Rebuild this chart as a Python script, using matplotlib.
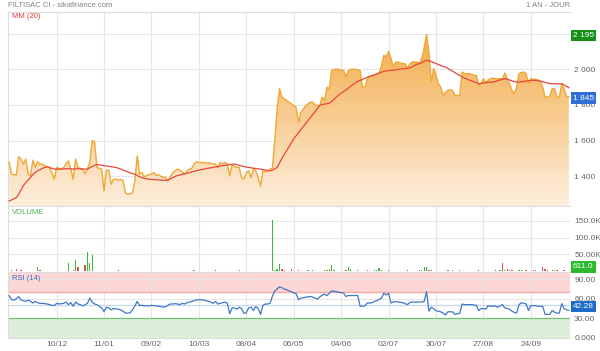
import numpy as np
import matplotlib
matplotlib.use('Agg')
import matplotlib.pyplot as plt
from matplotlib.colors import LinearSegmentedColormap
from matplotlib.ticker import FixedLocator, FixedFormatter

plt.rcParams['font.family'] = ['Liberation Sans', 'DejaVu Sans']

# ---------------- data ----------------
price = [
    1478, 1412, 1410, 1407, 1510, 1497, 1469, 1497, 1412, 1403,
    1491, 1450, 1483, 1465, 1470, 1459, 1455, 1450, 1421, 1384,
    1450, 1445, 1441, 1450, 1470, 1487, 1441, 1384, 1497, 1450,
    1445, 1441, 1416, 1440, 1480, 1600, 1595, 1450, 1445, 1441,
    1318, 1435, 1435, 1356, 1384, 1384, 1380, 1382, 1378, 1309,
    1300, 1302, 1309, 1375, 1515, 1412, 1421, 1397, 1405, 1410,
    1412, 1421, 1405, 1410, 1400, 1395, 1393, 1375, 1400, 1420,
    1431, 1441, 1435, 1425, 1412, 1431, 1440, 1445, 1469, 1483,
    1478, 1478, 1478, 1475, 1475, 1472, 1470, 1468, 1450, 1478,
    1470, 1478, 1470, 1403, 1465, 1455, 1450, 1450, 1393, 1384,
    1420, 1431, 1393, 1441, 1431, 1393, 1346, 1431, 1425, 1431,
    1441, 1445, 1600, 1780, 1891, 1844, 1835, 1825, 1815, 1807,
    1795, 1788, 1703, 1759, 1775, 1797, 1805, 1816, 1816, 1800,
    1797, 1797, 1844, 1825, 1900, 1890, 1994, 2000, 2000, 2000,
    1995, 1994, 1960, 1990, 2000, 2000, 2000, 1998, 1994, 1900,
    1900, 1945, 1960, 1966, 1966, 1970, 1976, 2022, 2079, 2070,
    2101, 2060, 2013, 2041, 2040, 2035, 2032, 2030, 2007, 2030,
    2041, 2041, 2040, 2035, 2060, 2120, 2195, 2097, 1928, 2004,
    1966, 1919, 1900, 1854, 1870, 1882, 1885, 1882, 1854, 1854,
    1854, 1985, 1976, 1976, 1976, 1972, 1966, 1966, 1910, 1920,
    1947, 1925, 1940, 1947, 1950, 1948, 1947, 1947, 1945, 1979,
    1945, 1920, 1882, 1863, 1900, 1976, 1982, 1985, 1975, 1919,
    1947, 1945, 1943, 1940, 1935, 1900, 1844, 1844, 1850, 1891,
    1891, 1844, 1844, 1919, 1890, 1850, 1845,
]

ma20 = [
    1262, 1268, 1275, 1281, 1300, 1325, 1348, 1365, 1380, 1395,
    1410, 1422, 1431, 1438, 1445, 1450, 1453, 1450, 1445, 1441,
    1441, 1440, 1441, 1442, 1443, 1443, 1442, 1441, 1442, 1443,
    1442, 1441, 1441, 1441, 1448, 1455, 1462, 1465, 1465, 1463,
    1460, 1458, 1456, 1454, 1452, 1450, 1446, 1441, 1436, 1430,
    1425, 1420, 1416, 1412, 1405, 1398, 1393, 1389, 1386, 1384,
    1383, 1382, 1381, 1380, 1379, 1378, 1378, 1380, 1386, 1393,
    1400, 1405, 1408, 1412, 1415, 1418, 1421, 1425, 1428, 1432,
    1435, 1438, 1440, 1443, 1446, 1448, 1450, 1453, 1455, 1458,
    1460, 1462, 1464, 1466, 1468, 1469, 1466, 1462, 1458, 1455,
    1452, 1450, 1448, 1446, 1444, 1442, 1441, 1438, 1435, 1433,
    1431, 1435, 1442, 1450, 1475, 1500, 1522, 1544, 1565, 1588,
    1610, 1628, 1645, 1662, 1678, 1695, 1712, 1730, 1748, 1765,
    1782, 1797, 1803, 1805, 1807, 1810, 1820, 1832, 1845, 1856,
    1866, 1874, 1884, 1895, 1905, 1915, 1924, 1932, 1938, 1943,
    1950, 1955, 1960, 1964, 1968, 1975, 1980, 1984, 1988, 1991,
    1993, 1994, 1995, 1997, 1999, 2001, 2002, 2004, 2006, 2008,
    2015, 2022, 2028, 2032, 2038, 2045, 2051, 2048, 2043, 2038,
    2032, 2027, 2021, 2016, 2013, 2005, 1997, 1989, 1981, 1973,
    1965, 1957, 1951, 1946, 1940, 1935, 1930, 1925, 1919, 1921,
    1923, 1925, 1927, 1928, 1928, 1932, 1936, 1940, 1944, 1947,
    1945, 1940, 1935, 1931, 1928, 1928, 1930, 1932, 1934, 1936,
    1938, 1938, 1938, 1936, 1933, 1930, 1927, 1923, 1920, 1919,
    1919, 1919, 1919, 1919, 1912, 1905, 1897,
]

volume = [
    2000, 3000, 500, 8000, 1500, 2500, 500, 1000, 300, 500,
    800, 1200, 13000, 3000, 500, 400, 300, 500, 800, 300,
    2000, 500, 300, 1500, 800, 25000, 1000, 3000, 34000, 14000,
    2000, 500, 20000, 57000, 25000, 49000, 1500, 800, 1000, 1500,
    800, 500, 1000, 600, 400, 500, 3000, 800, 600, 500,
    800, 400, 600, 300, 500, 400, 300, 500, 700, 400,
    500, 300, 600, 400, 300, 500, 800, 400, 300, 600,
    400, 500, 300, 600, 500, 400, 700, 1000, 5000, 800,
    500, 400, 300, 600, 500, 400, 800, 2500, 600, 500,
    1000, 800, 600, 1200, 500, 1500, 2000, 2500, 800, 600,
    1000, 800, 1500, 700, 600, 1200, 1000, 800, 600, 1500,
    2000, 152000, 3000, 8000, 23000, 8000, 5000, 2000, 1500, 8000,
    2000, 1500, 2500, 1800, 2200, 1500, 3000, 2000, 2500, 1800,
    2200, 1500, 2000, 2500, 4000, 7000, 20000, 2500, 1500, 2000,
    1800, 2200, 3000, 12000, 6000, 2000, 1500, 2500, 2000, 1500,
    1800, 2500, 1500, 2000, 3000, 2500, 10000, 5000, 2000, 1500,
    2500, 1800, 2000, 1500, 2200, 1800, 1500, 2000, 2500, 1800,
    1500, 2000, 1800, 2500, 3000, 12000, 12000, 4000, 2500, 2000,
    1500, 2000, 1800, 2200, 1500, 2500, 2000, 5000, 1800, 1500,
    3000, 1800, 1500, 2000, 2200, 1500, 1800, 2000, 2500, 1500,
    1800, 2000, 1500, 2200, 1800, 2500, 2000, 3000, 25000, 4000,
    6000, 2500, 3000, 2000, 1500, 3000, 2500, 2000, 4000, 1800,
    2000, 2500, 3000, 1800, 2200, 12000, 6000, 2500, 2000, 3000,
    4000, 2500, 2000, 1800, 3000, 1500, 611,
]

rsi = [
    65, 58.5, 58, 60, 63.5, 58, 57, 56, 58, 56,
    53.5, 56, 54, 53, 53, 52.5, 52, 51, 50, 49.5,
    53, 52, 52.5, 53, 55, 51, 54, 48.5, 55, 52,
    51, 49, 51, 53, 61, 55, 52, 51, 48.5, 46,
    40, 47, 46, 43, 45, 44.5, 44, 43, 41, 38,
    38, 38.5, 43, 49, 56, 49.5, 50, 49, 49.5, 49,
    50, 49.5, 49, 48.5, 48, 47, 48, 50, 52, 52,
    52.5, 52, 51, 53, 52, 54, 55, 56, 57, 58.5,
    58.5, 58.5, 58, 57, 56, 55, 53, 56, 52, 53,
    54, 55, 53, 37, 46, 46, 44, 47, 45, 37.5,
    38.5, 46, 47, 42, 48, 45, 36, 50, 52, 52,
    53, 64, 72, 75, 78.5, 77, 75, 74, 72, 71,
    69, 68, 58.5, 61, 61.5, 62.5, 63, 63.5, 62.5, 61,
    59.5, 63, 65.5, 67, 65, 68.5, 72, 71.5, 71, 70,
    69.5, 69, 63.5, 65, 65, 65, 65, 65, 48.5, 48.5,
    49, 53.5, 53.5, 54, 56, 57, 59, 61, 68.5, 66,
    68.5, 53.5, 55.5, 55.5, 55, 54.5, 54, 52.5, 51, 54.5,
    55, 55, 55, 55, 55, 56, 71, 41, 47, 45,
    41.5, 41, 40, 38, 35, 40, 40, 40, 36, 37,
    37.5, 52, 51, 51, 51, 51, 50.5, 50, 42, 45,
    45, 44, 49.5, 48.5, 48.5, 49, 47, 49, 51, 46,
    45, 44, 41, 39, 38, 51, 54, 53, 52, 42,
    49.5, 49.5, 49.5, 48.5, 48.5, 48.5, 36, 36, 36, 42,
    39.5, 38, 38, 52.5, 45, 43, 42.28,
]

tick_pos = [20, 40, 60, 80, 100, 120, 140, 160, 180, 200, 220]
tick_labels = ['10/12', '11/01', '09/02', '10/03', '08/04', '06/05',
               '04/06', '02/07', '30/07', '27/08', '24/09']

price_ticks = [1400, 1600, 1800, 2000, 2200]
price_tick_labels = ['1 400', '1 600', '1 800', '2 000', '2 200']
vol_ticks = [50000, 100000, 150000]
vol_tick_labels = ['50.00K', '100.0K', '150.0K']
rsi_ticks = [0, 30, 60, 90]
rsi_tick_labels = ['0.000', '30.00', '60.00', '90.00']

# ---------------- figure ----------------
W, H = 600, 351
fig = plt.figure(figsize=(W / 100, H / 100), dpi=100)
fig.patch.set_facecolor('white')


def rect(l, t, r, b):
    return [l / W, 1 - b / H, (r - l) / W, (b - t) / H]


axp = fig.add_axes(rect(8, 12, 570, 206))
axv = fig.add_axes(rect(8, 206, 570, 272))
axr = fig.add_axes(rect(8, 272, 570, 338))

n = len(price)
x = np.arange(n)
GRID = '#e6e6e6'
TICKC = '#666666'
FS = 6

for ax in (axp, axv, axr):
    ax.set_xlim(-0.5, n - 0.5)
    ax.xaxis.set_major_locator(FixedLocator(tick_pos))
    ax.grid(True, color=GRID, lw=0.8, zorder=0)
    ax.set_axisbelow(True)
    ax.yaxis.tick_right()
    ax.tick_params(axis='both', length=0, labelsize=FS, labelcolor=TICKC, pad=3)
    for s in ax.spines.values():
        s.set_color('#dddddd')
        s.set_linewidth(0.8)
    ax.spines['right'].set_visible(False)

axp.tick_params(axis='x', labelbottom=False)
axv.tick_params(axis='x', labelbottom=False)
axr.xaxis.set_major_formatter(FixedFormatter(tick_labels))
axr.tick_params(axis='x', pad=2)

# price panel
ylo, yhi = 1234, 2321
axp.set_ylim(ylo, yhi)
axp.yaxis.set_major_locator(FixedLocator(price_ticks))
axp.yaxis.set_major_formatter(FixedFormatter(price_tick_labels))
poly = axp.fill_between(x, price, ylo, color='none', lw=0)
grad = np.linspace(0, 1, 256).reshape(-1, 1)
cmap = LinearSegmentedColormap.from_list('g', ['#fdeedd', '#f2a53a'])
im = axp.imshow(grad, extent=[-0.5, n - 0.5, ylo, yhi], origin='lower',
                aspect='auto', cmap=cmap, zorder=1, interpolation='bilinear')
im.set_clip_path(poly.get_paths()[0], transform=axp.transData)
axp.plot(x, price, color='#f0a832', lw=1.0, zorder=3)
axp.plot(x, ma20, color='#e8463c', lw=0.9, zorder=4)

# volume panel
axv.set_ylim(-2100, 194300)
axv.yaxis.set_major_locator(FixedLocator(vol_ticks))
axv.yaxis.set_major_formatter(FixedFormatter(vol_tick_labels))
diff = np.diff(np.asarray(price, dtype=float), prepend=price[0])
vcols = ['#3db83d' if d >= 0 else '#e0504a' for d in diff]
axv.bar(x, volume, width=0.55, color=vcols, zorder=3)

# RSI panel
rlo, rhi = -0.3, 101.2
axr.set_ylim(rlo, rhi)
axr.yaxis.set_major_locator(FixedLocator(rsi_ticks))
axr.yaxis.set_major_formatter(FixedFormatter(rsi_tick_labels))
axr.axhspan(70, rhi, color='#fdd6d6', lw=0, zorder=0.5)
axr.axhline(70, color='#f4a8a8', lw=1.0, zorder=0.6)
axr.axhspan(rlo, 30, color='#ddefd8', lw=0, zorder=0.5)
axr.axhline(30, color='#74c074', lw=0.9, zorder=0.6)
axr.axhline(50, color='#c6d9f1', lw=0.9, zorder=0.6)
axr.plot(x, rsi, color='#3f78c6', lw=0.9, zorder=3)

# ---------------- texts ----------------
fig.text(8 / W, 1 - 5.5 / H, 'FILTISAC CI - sikafinance.com', fontsize=5.5,
         color='#808080', va='center', ha='left')
fig.text(570 / W, 1 - 5.5 / H, '1 AN - JOUR', fontsize=5.5,
         color='#808080', va='center', ha='right')
fig.text(12 / W, 1 - 17 / H, 'MM (20)', fontsize=5.5, color='#e53935',
         va='center', ha='left')
fig.text(12 / W, 1 - 213 / H, 'VOLUME', fontsize=5.5, color='#4caf50',
         va='center', ha='left')
fig.text(12 / W, 1 - 279 / H, 'RSI (14)', fontsize=5.5, color='#3b6cb7',
         va='center', ha='left')


def badge(ypix, txt, fc):
    fig.text(573 / W, 1 - ypix / H, txt, fontsize=FS, color='white',
             va='center', ha='left', zorder=10,
             bbox=dict(boxstyle='square,pad=0.25', fc=fc, ec='none'))


badge(35.5, '2 195', '#15901a')
badge(98, '1 845', '#2f6fd6')
badge(267, '611.0', '#2db82d')
badge(306.5, '42.28', '#1e6bc8')

fig.savefig('out.png', dpi=100, facecolor='white')
